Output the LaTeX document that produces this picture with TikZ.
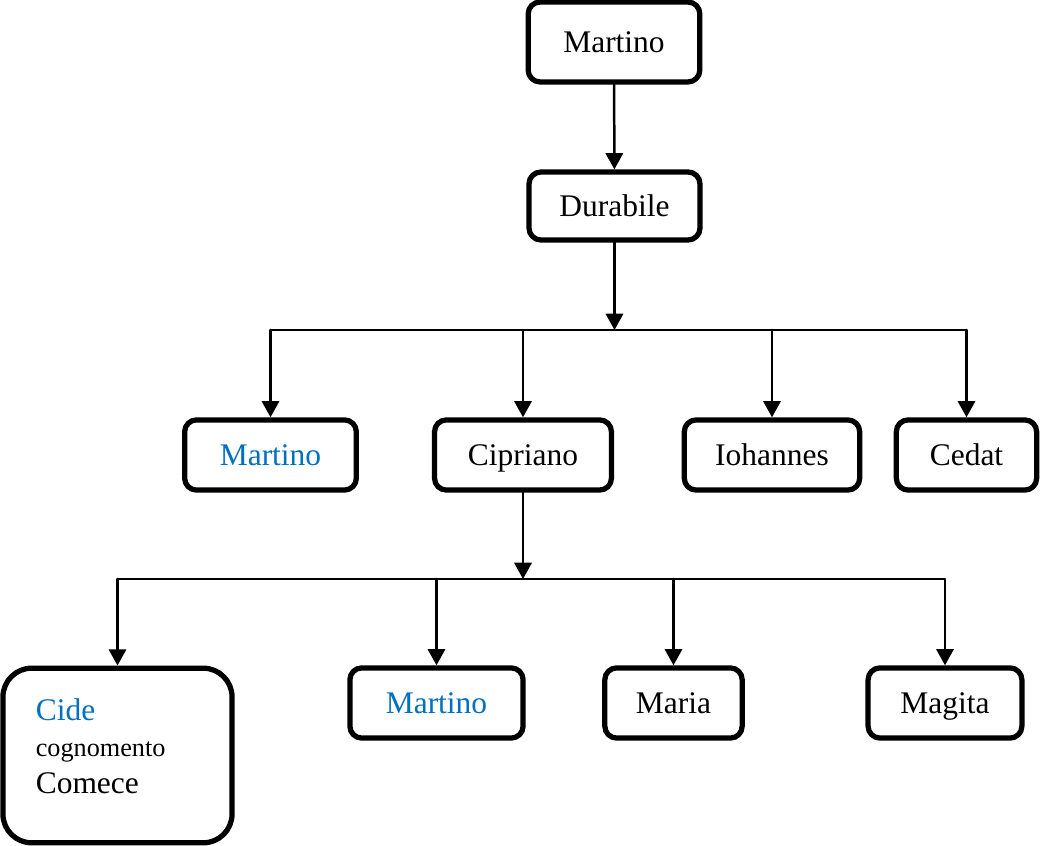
\documentclass[tikz,border=0pt]{standalone}
\usepackage{fontspec}
\setmainfont{Liberation Serif}
\usetikzlibrary{arrows.meta}
\definecolor{nameblue}{HTML}{0070C0}

\begin{document}
\begin{tikzpicture}[line cap=round,line join=round,x=0.0134cm,y=-0.0134cm,
  box/.style={draw,line width=2pt,rounded corners=4.5pt,minimum height=0.94cm,
    inner sep=2pt,text height=10pt,text depth=2.2pt,font=\fontsize{12}{14}\selectfont},
  arr/.style={line width=0.95pt,-{Triangle[width=6.6pt,length=6.2pt]}},
  busline/.style={line width=0.7pt,line cap=butt}]
  \useasboundingbox (0,0) rectangle (1042,846);
  \node[box,minimum width=2.30cm,minimum height=1.07cm] (mart) at (614,42) {Martino};
  \node[box,minimum width=2.29cm,minimum height=0.91cm] (dura) at (614.5,206) {Durabile};
  \node[box,minimum width=2.30cm,text=nameblue] (mart2) at (270.5,455) {Martino};
  \node[box,minimum width=2.37cm] (cipr) at (523,455) {Cipriano};
  \node[box,minimum width=2.35cm] (ioh) at (772,455) {Iohannes};
  \node[box,minimum width=1.88cm] (ced) at (966.5,455) {Cedat};
  \node[box,rounded corners=11pt,minimum height=2.34cm,text width=2.19cm,
    text height=9pt,text depth=36pt,inner xsep=0.44cm,align=left] (cide) at (117.5,755.5)
    {\textcolor{nameblue}{Cide}\\{\fontsize{10}{12}\selectfont cognomento}\\Comece};
  \node[box,minimum width=2.32cm,text=nameblue] (mart3) at (436.5,703) {Martino};
  \node[box,minimum width=1.84cm] (maria) at (673.5,703) {Maria};
  \node[box,minimum width=2.06cm] (magita) at (945,703) {Magita};
  \coordinate (busa) at (622,330);
  \coordinate (busb) at (520,579);
  \draw[arr] (mart) -- (dura);
  \draw[arr] (dura.south) -- (dura.south |- busa);
  \draw[busline] (mart2.north |- busa) -- (ced.north |- busa);
  \foreach \kid in {mart2,cipr,ioh,ced} {
    \draw[arr] (\kid.north |- busa) -- (\kid.north);
  }
  \draw[arr] (cipr.south) -- (cipr.south |- busb);
  \draw[busline] (cide.north |- busb) -- (magita.north |- busb);
  \foreach \kid in {cide,mart3,maria,magita} {
    \draw[arr] (\kid.north |- busb) -- (\kid.north);
  }
\end{tikzpicture}
\end{document}
